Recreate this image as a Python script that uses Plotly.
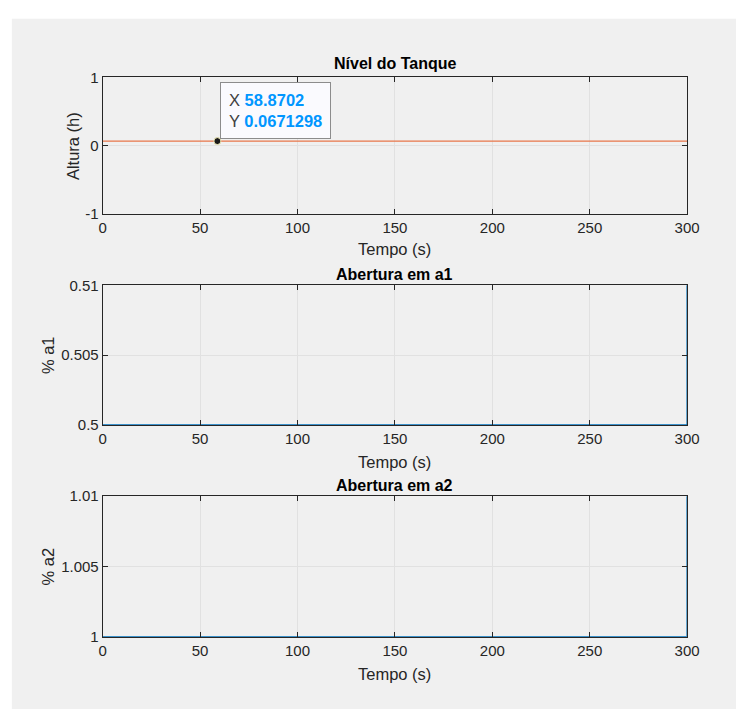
import plotly.graph_objects as go

# Simulation time (s) and recorded signals
tempo = [0, 300]
altura = [0.0671298, 0.0671298]
tempo_valvulas = [0, 300, 300]
abertura_a1 = [0.5, 0.5, 0.6]
abertura_a2 = [1.0, 1.0, 1.1]

# Data tip on the tank level
tip_x = 58.8702
tip_y = 0.0671298

# Axis ticks
x_ticks = [0, 50, 100, 150, 200, 250, 300]
y1_ticks = [-1, 0, 1]
y2_ticks = [0.5, 0.505, 0.51]
y2_labels = ["0.5", "0.505", "0.51"]
y3_ticks = [1, 1.005, 1.01]
y3_labels = ["1", "1.005", "1.01"]

titles = ["Nível do Tanque", "Abertura em a1", "Abertura em a2"]
y_titles = ["Altura (h)", "% a1", "% a2"]
x_title = "Tempo (s)"

W, H = 749, 717
FONT = "Liberation Sans, Arial, Helvetica, sans-serif"
AX = "#262626"
GRID = "#e1e1e1"
BLUE = "#0072BD"
ORANGE = "#E8764A"


def px_x(p):
    return p / W


def px_y(p):
    return 1 - p / H


xdom = [px_x(101), px_x(699)]
# (top, bottom) pixel rows of each axes box
boxes = [(70, 210), (283, 426), (499, 643)]

fig = go.Figure()

fig.add_trace(go.Scatter(x=tempo, y=altura, mode="lines",
                         line=dict(color=ORANGE, width=1.4),
                         xaxis="x", yaxis="y", showlegend=False,
                         hoverinfo="skip"))
fig.add_trace(go.Scatter(x=[tip_x], y=[tip_y], mode="markers",
                         marker=dict(color="#1a1a1a", size=7,
                                     line=dict(color="#f3eeb8", width=1)),
                         xaxis="x", yaxis="y", showlegend=False,
                         hoverinfo="skip"))
fig.add_trace(go.Scatter(x=tempo_valvulas, y=abertura_a1, mode="lines",
                         line=dict(color=BLUE, width=1.4),
                         xaxis="x2", yaxis="y2", showlegend=False,
                         hoverinfo="skip"))
fig.add_trace(go.Scatter(x=tempo_valvulas, y=abertura_a2, mode="lines",
                         line=dict(color=BLUE, width=1.4),
                         xaxis="x3", yaxis="y3", showlegend=False,
                         hoverinfo="skip"))

common_axis = dict(
    showline=True, linecolor=AX, linewidth=1, mirror="ticks",
    ticks="inside", ticklen=5, tickcolor=AX, tickwidth=1,
    showgrid=True, gridcolor=GRID, gridwidth=1, zeroline=False,
    tickfont=dict(family=FONT, size=15, color=AX),
    fixedrange=True,
)

y_ranges = [[-1, 1], [0.5, 0.51], [1, 1.01]]
y_tickvals = [y1_ticks, y2_ticks, y3_ticks]
y_ticktext = [[str(v) for v in y1_ticks], y2_labels, y3_labels]

layout = dict(
    width=W, height=H,
    margin=dict(l=0, r=0, t=0, b=0),
    paper_bgcolor="white",
    plot_bgcolor="white",
    showlegend=False,
    font=dict(family=FONT, color=AX),
)

for i, (top, bot) in enumerate(boxes):
    sfx = "" if i == 0 else str(i + 1)
    layout["xaxis" + sfx] = dict(
        common_axis, domain=xdom, range=[0, 300],
        tickvals=x_ticks, ticktext=[str(v) for v in x_ticks],
        anchor="y" + sfx,
    )
    layout["yaxis" + sfx] = dict(
        common_axis, domain=[px_y(bot), px_y(top)], range=y_ranges[i],
        tickvals=y_tickvals[i], ticktext=y_ticktext[i],
        anchor="x" + sfx,
    )

fig.update_layout(**layout)

# Figure window background
fig.add_shape(type="rect", xref="paper", yref="paper",
              x0=px_x(8), x1=1, y0=0, y1=px_y(10),
              fillcolor="#f0f0f0", line=dict(width=0), layer="below")

annotations = []
title_rows = [56, 272, 488]
xtitle_rows = [246, 464, 681]
ytitle_cols = [70, 45, 45]
for i, (top, bot) in enumerate(boxes):
    annotations.append(dict(
        text="<b>" + titles[i] + "</b>", xref="paper", yref="paper",
        x=px_x(400), y=px_y(title_rows[i]), showarrow=False,
        xanchor="center", yanchor="middle",
        font=dict(family=FONT, size=16, color="black")))
    annotations.append(dict(
        text=x_title, xref="paper", yref="paper",
        x=px_x(400), y=px_y(xtitle_rows[i]), showarrow=False,
        xanchor="center", yanchor="middle",
        font=dict(family=FONT, size=16.5, color=AX)))
    annotations.append(dict(
        text=y_titles[i], xref="paper", yref="paper",
        x=px_x(ytitle_cols[i]), y=px_y((top + bot) / 2), showarrow=False,
        xanchor="center", yanchor="middle", textangle=-90,
        font=dict(family=FONT, size=16.5, color=AX)))

tip_text = ("X <b><span style='color:#0096FF'>%s</span></b><br>"
            "Y <b><span style='color:#0096FF'>%s</span></b>") % (
    f"{tip_x:g}", f"{tip_y:g}")
annotations.append(dict(
    text=tip_text, xref="paper", yref="paper",
    x=px_x(221), y=px_y(75), xanchor="left", yanchor="top",
    showarrow=False, align="left",
    bgcolor="#fafafe", bordercolor="#8c8c8c", borderwidth=1, borderpad=8,
    font=dict(family=FONT, size=16.5, color="#404040")))

fig.update_layout(annotations=annotations)

# Pin the figure to the page corner so the page is exactly the figure size
page_js = (
    "var s=document.documentElement.style;s.margin='0';s.padding='0';"
    "s.overflow='hidden';"
    "var b=document.body.style;b.margin='0';b.padding='0';b.overflow='hidden';"
    "var g=document.getElementById('{plot_id}');"
    "g.style.position='fixed';g.style.left='0';g.style.top='0';"
)
fig.write_html("out.html", post_script=page_js)
